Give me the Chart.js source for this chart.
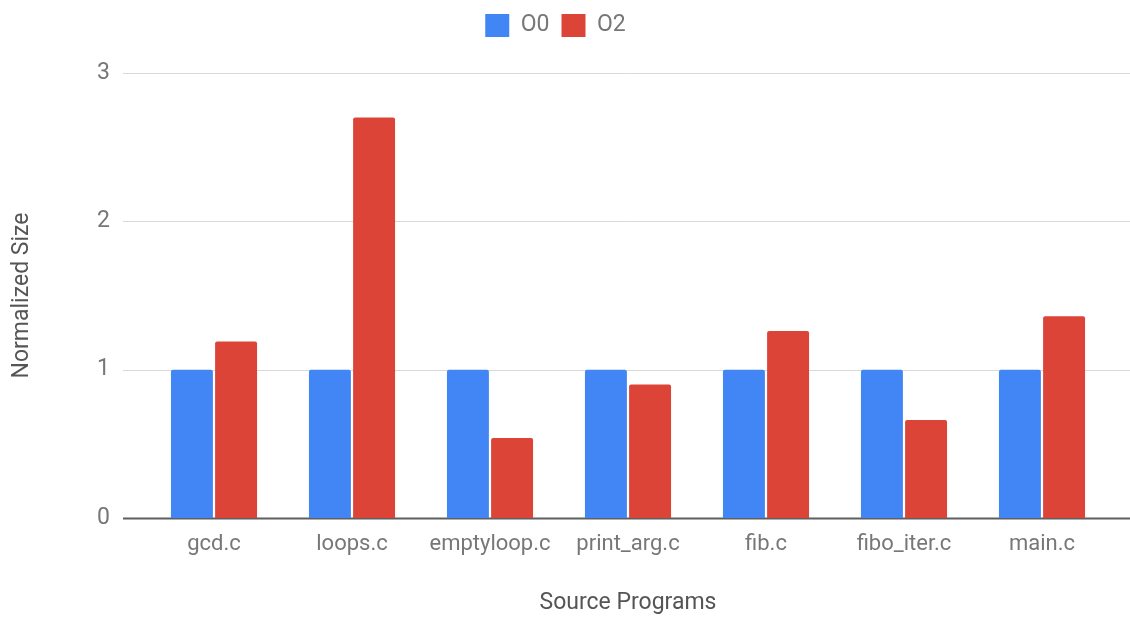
<!DOCTYPE html>
<html>
<head>
<meta charset="utf-8">
<script src="https://cdn.jsdelivr.net/npm/chart.js@4/dist/chart.umd.min.js"></script>
<style>
  html, body { margin: 0; padding: 0; background: #fff; }
  #wrap { width: 1130px; height: 618px; }
</style>
</head>
<body>
<div id="wrap"><canvas id="chart"></canvas></div>
<script>
const programs = ["gcd.c", "loops.c", "emptyloop.c", "print_arg.c", "fib.c", "fibo_iter.c", "main.c"];
const o0Sizes = [1, 1, 1, 1, 1, 1, 1];
const o2Sizes = [1.19, 2.70, 0.54, 0.90, 1.26, 0.66, 1.36];
const yTicks = [0, 1, 2, 3];

// google-style gridlines running a bit past the plot area on both sides
const wideGrid = {
  id: "wideGrid",
  beforeDatasetsDraw(chart) {
    const { ctx, scales: { y } } = chart;
    ctx.save();
    yTicks.forEach((v) => {
      const py = Math.round(y.getPixelForValue(v)) + 0.5;
      ctx.beginPath();
      ctx.strokeStyle = v === 0 ? "#5f5f5f" : "#d9d9d9";
      ctx.lineWidth = v === 0 ? 2 : 1;
      ctx.moveTo(123, py);
      ctx.lineTo(chart.width, py);
      ctx.stroke();
    });
    ctx.restore();
  },
};

// keep the legend at the very top but leave room under it
const legendGap = {
  id: "legendGap",
  beforeLayout(chart) {
    const lg = chart.legend;
    if (!lg || lg._gapPatched) return;
    const fit = lg.fit.bind(lg);
    lg.fit = function () { fit(); this.height += 26; };
    lg._gapPatched = true;
  },
};

new Chart(document.getElementById("chart"), {
  type: "bar",
  data: {
    labels: programs,
    datasets: [
      { label: "O0", data: o0Sizes, backgroundColor: "#4285F4" },
      { label: "O2", data: o2Sizes, backgroundColor: "#DB4437" },
    ],
  },
  options: {
    responsive: true,
    maintainAspectRatio: false,
    animation: false,
    categoryPercentage: 0.64,
    barPercentage: 0.95,
    borderRadius: { topLeft: 2, topRight: 2 },
    layout: { padding: { top: 2, right: 19 } },
    plugins: {
      tooltip: { enabled: false },
      legend: {
        position: "top",
        labels: {
          boxWidth: 24,
          boxHeight: 23,
          padding: 12,
          color: "#777",
          font: { family: "Roboto", size: 23 },
        },
      },
    },
    scales: {
      x: {
        grid: { display: false, drawTicks: false },
        border: { display: false },
        ticks: { color: "#777", font: { family: "Roboto", size: 22 }, padding: 13, maxRotation: 0 },
        title: {
          display: true,
          text: "Source Programs",
          color: "#555",
          font: { family: "Roboto", size: 23 },
          padding: { top: 0, bottom: 1 },
        },
        afterFit: (s) => { s.height = 100; },
      },
      y: {
        min: 0,
        max: 3,
        afterBuildTicks: (s) => { s.ticks = yTicks.map((v) => ({ value: v })); },
        grid: { display: false, drawTicks: false },
        border: { display: false },
        ticks: { color: "#777", font: { family: "Roboto", size: 23 }, padding: 35 },
        title: {
          display: true,
          text: "Normalized Size",
          color: "#555",
          font: { family: "Roboto", size: 23 },
          padding: { top: 8, bottom: 0 },
        },
        afterFit: (s) => { s.width = 145; },
      },
    },
  },
  plugins: [wideGrid, legendGap],
});
</script>
</body>
</html>
